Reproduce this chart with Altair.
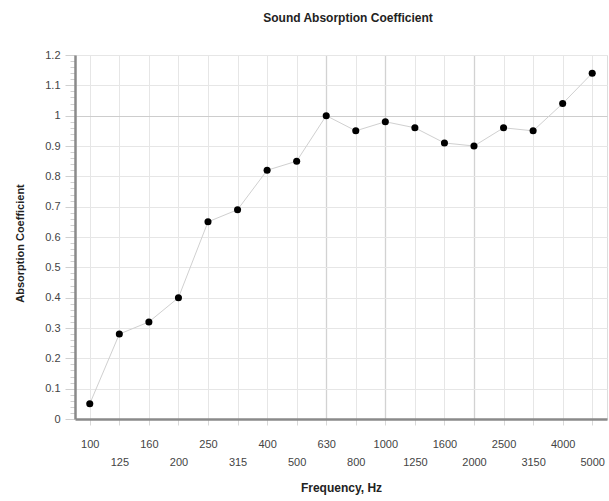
import altair as alt
import pandas as pd

# Third-octave band centre frequencies and measured absorption coefficients
frequencies = ["100", "125", "160", "200", "250", "315", "400", "500", "630",
               "800", "1000", "1250", "1600", "2000", "2500", "3150", "4000", "5000"]
coefficients = [0.05, 0.28, 0.32, 0.40, 0.65, 0.69, 0.82, 0.85, 1.00,
                0.95, 0.98, 0.96, 0.91, 0.90, 0.96, 0.95, 1.04, 1.14]

# y axis: major steps of 0.1, minor ticks every 0.02
y_ticks = [round(i * 0.02, 2) for i in range(61)]

df = pd.DataFrame({"freq": frequencies, "alpha": coefficients})

FONT = "Liberation Sans"
lower_row = ["125", "200", "315", "500", "800", "1250", "2000", "3150", "5000"]
lower_test = "indexof(" + str(lower_row) + ", datum.value) >= 0"
strong_x = "indexof(['630', '1000', '2000'], datum.value) >= 0"
major_y = "abs(round(datum.value * 10) - datum.value * 10) < 0.001"

x_enc = alt.X(
    "freq:O",
    sort=frequencies,
    scale=alt.Scale(type="point", padding=0.5),
    axis=alt.Axis(
        title="Frequency, Hz",
        titleFont=FONT, titleFontSize=12, titleFontWeight="bold", titleColor="#222",
        titlePadding=15,
        labelFont=FONT, labelFontSize=11, labelColor="#444", labelAngle=0,
        labelOverlap=False,
        labelPadding={"condition": {"test": lower_test, "value": 31}, "value": 13},
        tickSize=6, tickColor="#d8d8d8",
        domainColor="#8a8a8a", domainWidth=2.5,
        grid=True,
        gridColor={"condition": {"test": strong_x, "value": "#d2d2d2"}, "value": "#e6e6e6"},
        gridWidth={"condition": {"test": strong_x, "value": 1.3}, "value": 1},
    ),
)

y_enc = alt.Y(
    "alpha:Q",
    scale=alt.Scale(domain=[0, 1.2], nice=False),
    axis=alt.Axis(
        title="Absorption Coefficient",
        titleFont=FONT, titleFontSize=11, titleFontWeight="bold", titleColor="#222",
        titleX=-50, titleY=188,
        values=y_ticks,
        labelExpr="abs(round(datum.value * 10) - datum.value * 10) < 0.001 ? format(datum.value, '.1~f') : ''",
        labelFont=FONT, labelFontSize=11, labelColor="#444",
        labelPadding=5,
        tickSize={"condition": {"test": major_y, "value": 10}, "value": 5},
        tickColor="#d0d0d0",
        domainColor="#8a8a8a", domainWidth=2.5,
        grid=True,
        gridOpacity={"condition": {"test": major_y, "value": 1}, "value": 0},
        gridColor={"condition": {"test": "abs(datum.value - 1) < 0.001", "value": "#cdcdcd"}, "value": "#e6e6e6"},
    ),
)

base = alt.Chart(df).encode(x=x_enc, y=y_enc)

line = base.mark_line(color="#d0d0d0", strokeWidth=1)
points = base.mark_circle(color="#000000", opacity=1, size=50)

chart = (
    (line + points)
    .properties(
        width=532,
        height=364,
        padding={"left": 75, "top": 55, "right": 2, "bottom": 82},
        autosize=alt.AutoSizeParams(type="none"),
        title=alt.TitleParams(
            "Sound Absorption Coefficient",
            font=FONT, fontSize=12, fontWeight="bold", color="#222",
            anchor="middle", offset=24, dx=7,
        ),
    )
    .configure_view(stroke=None)
    .configure(background="white")
)

chart.save("out.html", embed_options={"renderer": "svg", "actions": False})
